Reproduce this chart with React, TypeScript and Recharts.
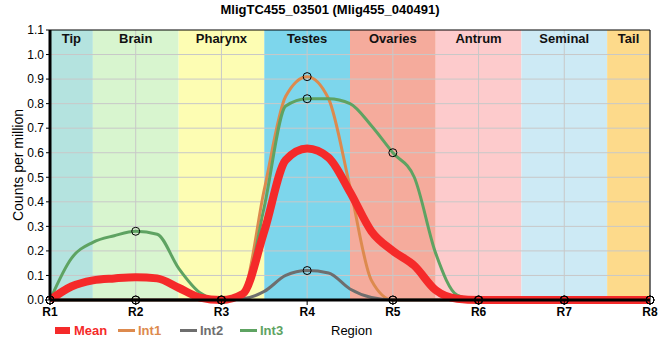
import React from "react";
import {
  LineChart,
  Line,
  XAxis,
  YAxis,
  ReferenceArea,
  ReferenceLine,
} from "recharts";

const positions = [
  1, 1.25, 1.5, 1.75, 2, 2.25, 2.5, 2.75, 3, 3.25, 3.5, 3.75, 4, 4.25, 4.5,
  4.75, 5, 5.25, 5.5, 5.75, 6, 6.25, 6.5, 6.75, 7, 7.25, 7.5, 7.75, 8,
];
const meanValues = [
  0, 0.055, 0.08, 0.088, 0.093, 0.088, 0.05, 0.01, 0, 0.025, 0.28, 0.57, 0.617,
  0.58, 0.44, 0.28, 0.2, 0.14, 0.04, 0.005, 0, 0, 0, 0, 0, 0, 0, 0, 0,
];
const int1Values = [
  0, 0, 0, 0, 0, 0, 0, 0, 0, 0.03, 0.45, 0.83, 0.91, 0.82, 0.46, 0.08, 0, 0, 0,
  0, 0, 0, 0, 0, 0, 0, 0, 0, 0,
];
const int2Values = [
  0, 0, 0, 0, 0, 0, 0, 0, 0, 0.005, 0.035, 0.1, 0.12, 0.11, 0.045, 0.01, 0, 0,
  0, 0, 0, 0, 0, 0, 0, 0, 0, 0, 0,
];
const int3Values = [
  0, 0.17, 0.235, 0.262, 0.28, 0.268, 0.13, 0.03, 0, 0.02, 0.38, 0.79, 0.82,
  0.82, 0.8, 0.71, 0.6, 0.5, 0.19, 0.02, 0, 0, 0, 0, 0, 0, 0, 0, 0,
];

const regionNames = ["Tip", "Brain", "Pharynx", "Testes", "Ovaries", "Antrum", "Seminal", "Tail"];
const regionStart = [1, 1.5, 2.5, 3.5, 4.5, 5.5, 6.5, 7.5];
const regionEnd = [1.5, 2.5, 3.5, 4.5, 5.5, 6.5, 7.5, 8];
const regionColors = [
  "#b4e3df", "#d8f5cf", "#fdfdb3", "#7dd6ec", "#f5ab9c", "#fdcbcc", "#cdeaf5", "#fdda8b",
];

const xTicks = [1, 2, 3, 4, 5, 6, 7, 8];
const yTicks = [0, 0.1, 0.2, 0.3, 0.4, 0.5, 0.6, 0.7, 0.8, 0.9, 1.0, 1.1];

const data = positions.map((pos, i) => ({
  pos,
  mean: meanValues[i],
  int1: int1Values[i],
  int2: int2Values[i],
  int3: int3Values[i],
}));

const FONT = '"Liberation Sans", Arial, sans-serif';

function PointDot(props: any) {
  const { cx, cy, payload, index } = props;
  if (!Number.isInteger(payload.pos)) return <g key={`d-${index}`} />;
  return (
    <circle key={`d-${index}`} cx={cx} cy={cy} r={4} fill="none" stroke="#000" strokeWidth={1} />
  );
}

const legendItems = [
  { name: "Mean", color: "#f52a2a", thick: true },
  { name: "Int1", color: "#dd8a4e", thick: false },
  { name: "Int2", color: "#6e6e6e", thick: false },
  { name: "Int3", color: "#5ea362", thick: false },
];

export default function App() {
  return (
    <div
      style={{
        position: "absolute",
        left: 0,
        top: 0,
        width: 660,
        height: 360,
        background: "#fff",
        fontFamily: FONT,
      }}
    >
      <div
        style={{
          position: "absolute",
          top: 2,
          left: 0,
          width: 660,
          textAlign: "center",
          fontSize: 13,
          fontWeight: "bold",
          color: "#000",
        }}
      >
        MligTC455_03501 (Mlig455_040491)
      </div>
      <div
        style={{
          position: "absolute",
          left: 18,
          top: 165,
          transform: "translate(-50%, -50%) rotate(-90deg)",
          fontSize: 14,
          whiteSpace: "nowrap",
          color: "#000",
        }}
      >
        Counts per million
      </div>
      <LineChart
        width={660}
        height={360}
        data={data}
        margin={{ top: 30, right: 10, bottom: 35, left: 0 }}
        style={{ fontFamily: FONT }}
      >
        {regionNames.map((name, i) => (
          <ReferenceArea
            key={name}
            x1={regionStart[i]}
            x2={regionEnd[i]}
            y1={0}
            y2={1.1}
            fill={regionColors[i]}
            fillOpacity={1}
            stroke="none"
            label={{
              value: name,
              position: "insideTop",
              fill: "#111",
              fontSize: 13,
              fontWeight: "bold",
              offset: 4,
            }}
          />
        ))}
        {xTicks.map((t) => (
          <ReferenceLine key={`vx-${t}`} x={t} stroke="#c8c8c8" strokeWidth={1} />
        ))}
        {yTicks.slice(1, -1).map((t) => (
          <ReferenceLine key={`hy-${t}`} y={t} stroke="#c8c8c8" strokeWidth={1} />
        ))}
        <ReferenceLine y={1.1} stroke="#000" strokeWidth={1} />
        <ReferenceLine x={8} stroke="#000" strokeWidth={1} />
        <XAxis
          dataKey="pos"
          type="number"
          domain={[1, 8]}
          ticks={xTicks}
          tickFormatter={(v) => `R${v}`}
          axisLine={{ stroke: "#000", strokeWidth: 3 }}
          tickLine={{ stroke: "#000" }}
          tickSize={5}
          height={25}
          tick={{ fill: "#000", fontSize: 12, fontWeight: "bold" }}
        />
        <YAxis
          type="number"
          domain={[0, 1.1]}
          ticks={yTicks}
          tickFormatter={(v) => v.toFixed(1)}
          axisLine={{ stroke: "#000", strokeWidth: 3 }}
          tickLine={{ stroke: "#000" }}
          tickSize={4}
          width={50}
          tick={{ fill: "#000", fontSize: 12 }}
        />
        <Line
          type="monotone"
          dataKey="int1"
          stroke="#dd8a4e"
          strokeWidth={3}
          dot={PointDot}
          activeDot={false}
          isAnimationActive={false}
        />
        <Line
          type="monotone"
          dataKey="int2"
          stroke="#6e6e6e"
          strokeWidth={3}
          dot={PointDot}
          activeDot={false}
          isAnimationActive={false}
        />
        <Line
          type="monotone"
          dataKey="int3"
          stroke="#5ea362"
          strokeWidth={3}
          dot={PointDot}
          activeDot={false}
          isAnimationActive={false}
        />
        <Line
          type="monotone"
          dataKey="mean"
          stroke="#f52a2a"
          strokeWidth={8}
          dot={false}
          activeDot={false}
          isAnimationActive={false}
        />
      </LineChart>
      <div
        style={{
          position: "absolute",
          left: 331,
          top: 323,
          fontSize: 13,
          color: "#000",
        }}
      >
        Region
      </div>
      {legendItems.map((item, i) => (
        <div
          key={item.name}
          style={{
            position: "absolute",
            left: [55, 118, 180, 240][i],
            top: 323,
            display: "flex",
            alignItems: "center",
            gap: 3,
            fontSize: 13,
            fontWeight: "bold",
            color: item.color,
          }}
        >
          <span
            style={{
              display: "inline-block",
              width: item.thick ? 15 : 17,
              height: item.thick ? 7 : 3,
              background: item.color,
              marginRight: item.thick ? 1 : 0,
            }}
          />
          {item.name}
        </div>
      ))}
    </div>
  );
}
